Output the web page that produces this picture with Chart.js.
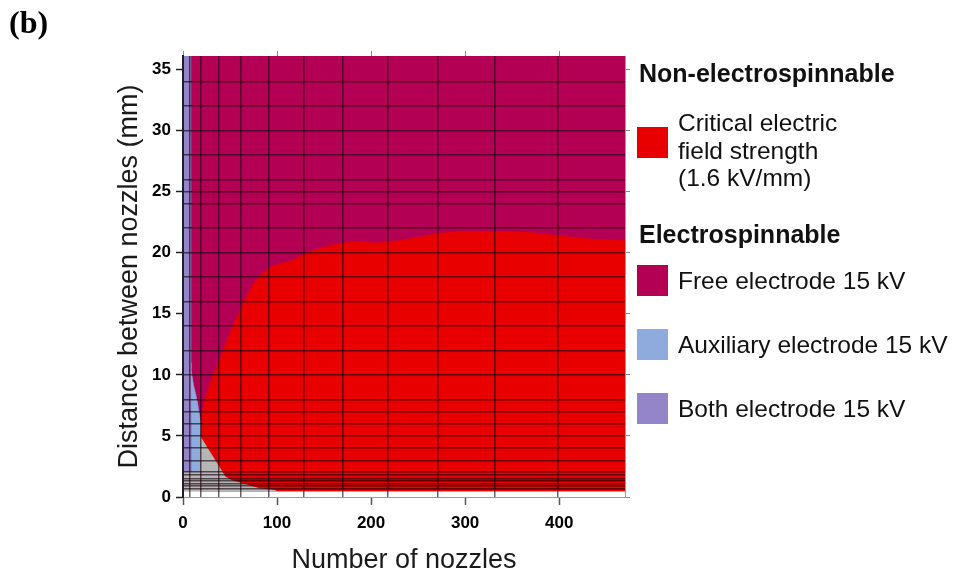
<!DOCTYPE html>
<html>
<head>
<meta charset="utf-8">
<title>Electrospinnable region map</title>
<script src="https://cdn.jsdelivr.net/npm/chart.js@4.4.1/dist/chart.umd.min.js"></script>
<style>
  html, body { margin: 0; padding: 0; background: #fff; }
  #wrap { position: relative; width: 961px; height: 579px; overflow: hidden;
          font-family: "Liberation Sans", Arial, sans-serif; color: #111; }
  #chart { position: absolute; left: 0; top: 0; }
  #panel { position: absolute; left: 9px; top: 4px; font: bold 32px "Liberation Serif", "Times New Roman", serif; color: #000; }
  .head { position: absolute; left: 639px; font-weight: bold; font-size: 25px; line-height: 30px; white-space: nowrap; color: #111; }
  .sw { position: absolute; left: 637px; width: 31px; height: 31px; }
  .lbl { position: absolute; left: 678px; font-size: 24.5px; line-height: 27.5px; white-space: nowrap; color: #111; }
</style>
</head>
<body>
<div id="wrap">
  <canvas id="chart" width="961" height="579"></canvas>
  <div id="panel">(b)</div>

  <div class="head" style="top:58px">Non-electrospinnable</div>
  <div class="sw" id="swCritical" style="top:127px"></div>
  <div class="lbl" style="top:109px">Critical electric<br>field strength<br>(1.6 kV/mm)</div>

  <div class="head" style="top:219px">Electrospinnable</div>
  <div class="sw" id="swFree" style="top:265px"></div>
  <div class="lbl" style="top:267px">Free electrode 15 kV</div>
  <div class="sw" id="swAux" style="top:329px"></div>
  <div class="lbl" style="top:331px">Auxiliary electrode 15 kV</div>
  <div class="sw" id="swBoth" style="top:393px"></div>
  <div class="lbl" style="top:395px">Both electrode 15 kV</div>
</div>

<script>
// ---- axes ----
const xRange = [0, 470];          // number of nozzles
const yRange = [0, 36.1];         // distance between nozzles (mm)
const xTickValues = [0, 100, 200, 300, 400];
const yTickValues = [0, 5, 10, 15, 20, 25, 30, 35];
const xMinorStep = 2.5;

// ---- simulation mesh lines ----
const meshX = [6.7, 19.4, 37.5, 61.6, 91.6, 128.7, 170.1, 218, 271, 331, 398];
const meshY = [0.65, 0.9, 1.12, 1.31, 1.53, 1.8, 2.05, 3, 4, 5, 6, 7, 8,
               10, 12, 14, 16, 18, 20, 22, 24, 25, 26, 28, 30, 32, 34];

// ---- region outlines (nozzles, mm) ----
// free electrode 15 kV: whole simulated domain
const freeX = [0, 470, 470, 0];
const freeY = [0.5, 0.5, 36.1, 36.1];

// critical electric field strength exceeded (1.6 kV/mm)
const criticalX = [18.4, 19.5, 21, 23.5, 27.5, 33, 38, 46.7, 53, 61, 68, 75, 84, 92.7, 103, 114,
                   135, 157, 183, 205, 231, 252, 273, 300, 332, 369, 397, 436, 470, 470, 18.4];
const criticalY = [5.0, 6.0, 7.0, 8.0, 9.0, 10.2, 11.0, 12.8, 14.0, 15.3, 16.5, 17.5, 18.3, 18.8, 19.1, 19.3,
                   20.1, 20.6, 20.95, 20.8, 21.0, 21.3, 21.6, 21.75, 21.75, 21.65, 21.4, 21.1, 21.0, 0.5, 0.5];

// auxiliary electrode 15 kV
const auxiliaryX = [8, 8.5, 11, 15, 18.4, 18.4, 8];
const auxiliaryY = [11, 10.5, 9.2, 7.9, 6.3, 2.05, 2.05];

// no spinning (grey pocket near the origin)
const noneX = [0, 0, 18.4, 18.4, 41.4, 44.9, 52, 62.7, 80.3, 98, 98];
const noneY = [0.5, 2.05, 2.05, 4.95, 2.1, 1.66, 1.35, 1.12, 0.71, 0.55, 0.5];

// both electrodes 15 kV
const bothX = [0, 0, 8.0, 8.0, 8.4, 8.8, 8.8];
const bothY = [2.05, 36.1, 36.1, 20, 10, 6, 2.05];

const COLORS = {
  free: '#B30055',
  critical: '#E80000',
  auxiliary: '#8FAADC',
  both: '#9485C9',
  none: '#B6B6B6'
};
const MESH = 'rgba(20, 0, 10, 0.62)';
const FONT = '"Liberation Sans", Arial, sans-serif';

document.getElementById('swCritical').style.background = COLORS.critical;
document.getElementById('swFree').style.background = COLORS.free;
document.getElementById('swAux').style.background = COLORS.auxiliary;
document.getElementById('swBoth').style.background = COLORS.both;

// layer: higher numbers are painted first (underneath)
function region(label, xs, ys, color, layer) {
  return {
    label,
    data: xs.map((x, i) => ({ x, y: ys[i] })),
    showLine: true,
    fill: 'shape',
    backgroundColor: color,
    borderColor: color,
    borderWidth: 0.6,
    pointRadius: 0,
    tension: 0,
    order: layer,
    xAxisID: 'x',
    yAxisID: 'y'
  };
}

const setTicks = values => scale => { scale.ticks = values.map(v => ({ value: v })); };

new Chart(document.getElementById('chart'), {
  type: 'scatter',
  data: {
    datasets: [
      region('Free electrode 15 kV', freeX, freeY, COLORS.free, 5),
      region('Critical electric field strength (1.6 kV/mm)', criticalX, criticalY, COLORS.critical, 4),
      region('Auxiliary electrode 15 kV', auxiliaryX, auxiliaryY, COLORS.auxiliary, 3),
      region('No spinning', noneX, noneY, COLORS.none, 2),
      region('Both electrode 15 kV', bothX, bothY, COLORS.both, 1)
    ]
  },
  options: {
    responsive: false,
    animation: false,
    devicePixelRatio: 1,
    events: [],
    layout: { padding: 0 },
    plugins: { legend: { display: false }, tooltip: { enabled: false } },
    scales: {
      x: {
        type: 'linear', position: 'bottom', min: xRange[0], max: xRange[1],
        afterBuildTicks: setTicks(xTickValues),
        afterFit: s => { s.height = 82; },
        grid: { drawOnChartArea: false, tickLength: 8, tickColor: '#555', tickWidth: 1.5 },
        border: { display: true, color: '#9a9a9a', width: 1 },
        ticks: { color: '#000', font: { family: FONT, size: 17, weight: 'bold' }, padding: 8, maxRotation: 0, autoSkip: false },
        title: { display: true, text: 'Number of nozzles', color: '#1a1a1a',
                 font: { family: FONT, size: 27 }, padding: { top: 0, bottom: 2 } }
      },
      xMinor: {
        type: 'linear', position: 'bottom', min: xRange[0], max: xRange[1],
        afterBuildTicks: s => {
          const t = [];
          for (let v = xRange[0]; v <= xRange[1]; v += xMinorStep) t.push({ value: v });
          s.ticks = t;
        },
        afterFit: s => { s.height = 0; },
        grid: { drawOnChartArea: false, tickLength: 3, tickColor: '#8a8a8a', tickWidth: 1 },
        border: { display: false },
        ticks: { display: false }
      },
      xTop: {
        type: 'linear', position: 'top', min: xRange[0], max: xRange[1],
        afterBuildTicks: setTicks(xTickValues),
        afterFit: s => { s.height = 56; },
        grid: { drawOnChartArea: false, tickLength: 5, tickColor: '#888', tickWidth: 1 },
        border: { display: true, color: '#a0a0a0', width: 1 },
        ticks: { display: false }
      },
      xGrid: {
        type: 'linear', position: 'top', min: xRange[0], max: xRange[1],
        afterBuildTicks: setTicks(meshX),
        afterFit: s => { s.height = 0; },
        grid: { drawOnChartArea: true, drawTicks: false, color: MESH, lineWidth: 1.5, z: 1 },
        border: { display: false },
        ticks: { display: false }
      },
      y: {
        type: 'linear', position: 'left', min: yRange[0], max: yRange[1],
        afterBuildTicks: setTicks(yTickValues),
        afterFit: s => { s.width = 183; },
        grid: { drawOnChartArea: false, tickLength: 7, tickColor: '#222', tickWidth: 1.5 },
        border: { display: true, color: '#1d1d2b', width: 2, z: 2 },
        ticks: { color: '#000', font: { family: FONT, size: 17, weight: 'bold' }, padding: 5 },
        title: { display: true, text: 'Distance between nozzles (mm)', color: '#1a1a1a',
                 font: { family: FONT, size: 27 }, padding: { top: 113, bottom: 0 } }
      },
      yRight: {
        type: 'linear', position: 'right', min: yRange[0], max: yRange[1],
        afterBuildTicks: setTicks(yTickValues),
        afterFit: s => { s.width = 336; },
        grid: { drawOnChartArea: false, tickLength: 5, tickColor: '#888', tickWidth: 1 },
        border: { display: true, color: '#a0a0a0', width: 1 },
        ticks: { display: false }
      },
      yGrid: {
        type: 'linear', position: 'left', min: yRange[0], max: yRange[1],
        afterBuildTicks: setTicks(meshY),
        afterFit: s => { s.width = 0; },
        grid: { drawOnChartArea: true, drawTicks: false, color: MESH, lineWidth: 1.5, z: 1 },
        border: { display: false },
        ticks: { display: false }
      }
    }
  }
});
</script>
</body>
</html>
